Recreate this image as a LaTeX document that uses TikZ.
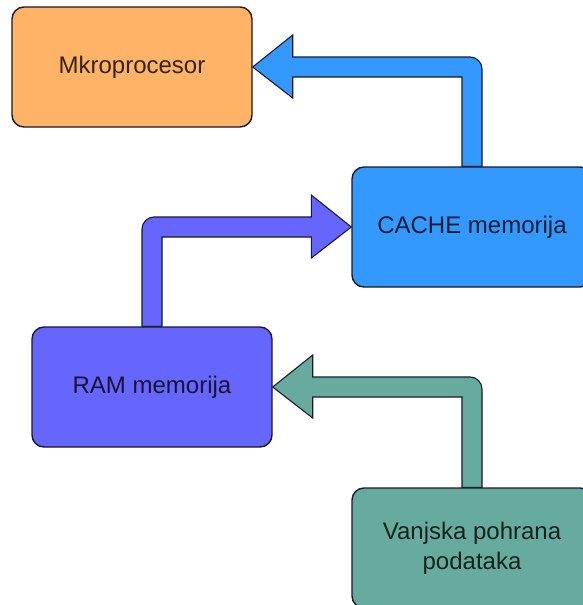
\documentclass[tikz,border=0pt]{standalone}
\usepackage{fontspec}
\setmainfont{Liberation Sans}
\usetikzlibrary{calc,backgrounds}
\definecolor{orangefill}{HTML}{FFB366}
\definecolor{bluefill}{HTML}{3399FF}
\definecolor{purplefill}{HTML}{6666FF}
\definecolor{greenfill}{HTML}{67AB9F}
\definecolor{edgecol}{HTML}{1A1A2A}
\tikzset{
  box/.style={draw=edgecol, line width=1.4pt, rounded corners=12pt,
    minimum width=240pt, minimum height=120pt, inner sep=0pt,
    align=center, text=black, text opacity=0.8,
    font=\fontsize{24}{30}\selectfont},
  bigarrow/.style={draw=edgecol, line width=1.1pt, line join=miter}
}
\begin{document}
\begin{tikzpicture}[x=1pt,y=-1pt]
\useasboundingbox (0,0) rectangle (583,605);
\clip (0,0) rectangle (583,605);
\node[box, fill=orangefill] (micro) at (132,67) {Mkroprocesor};
\node[box, fill=bluefill] (cache) at (472,227) {CACHE memorija};
\node[box, fill=purplefill] (ram) at (152,387) {RAM memorija};
\node[box, fill=greenfill] (van) at (472,548) {Vanjska pohrana\\podataka};
\coordinate (c1) at (cache.north |- micro.east);
\coordinate (c2) at (ram.north |- cache.west);
\coordinate (c3) at (van.north |- ram.east);
\begin{scope}[on background layer]
% CACHE -> Mikroprocesor
\draw[bigarrow, fill=bluefill]
  ($(cache.north)+(-10,0)$) -- ($(c1)+(-10,10)$) -- ($(micro.east)+(40,10)$)
  -- ($(micro.east)+(40,31)$) -- (micro.east) -- ($(micro.east)+(40,-32)$)
  -- ($(micro.east)+(40,-10)$) -- ($(c1)+(-2,-10)$) to[out=0,in=90] ($(c1)+(10,2)$)
  -- ($(cache.north)+(10,0)$) -- cycle;
% RAM -> CACHE
\draw[bigarrow, fill=purplefill]
  ($(ram.north)+(10,0)$) -- ($(c2)+(10,10)$) -- ($(cache.west)+(-40,10)$)
  -- ($(cache.west)+(-40,31)$) -- (cache.west) -- ($(cache.west)+(-40,-32)$)
  -- ($(cache.west)+(-40,-10)$) -- ($(c2)+(2,-10)$) to[out=180,in=90] ($(c2)+(-10,2)$)
  -- ($(ram.north)+(-10,0)$) -- cycle;
% Vanjska -> RAM
\draw[bigarrow, fill=greenfill]
  ($(van.north)+(-10,0)$) -- ($(c3)+(-10,10)$) -- ($(ram.east)+(40,10)$)
  -- ($(ram.east)+(40,31)$) -- (ram.east) -- ($(ram.east)+(40,-32)$)
  -- ($(ram.east)+(40,-10)$) -- ($(c3)+(-2,-10)$) to[out=0,in=90] ($(c3)+(10,2)$)
  -- ($(van.north)+(10,0)$) -- cycle;
\end{scope}
\end{tikzpicture}
\end{document}
